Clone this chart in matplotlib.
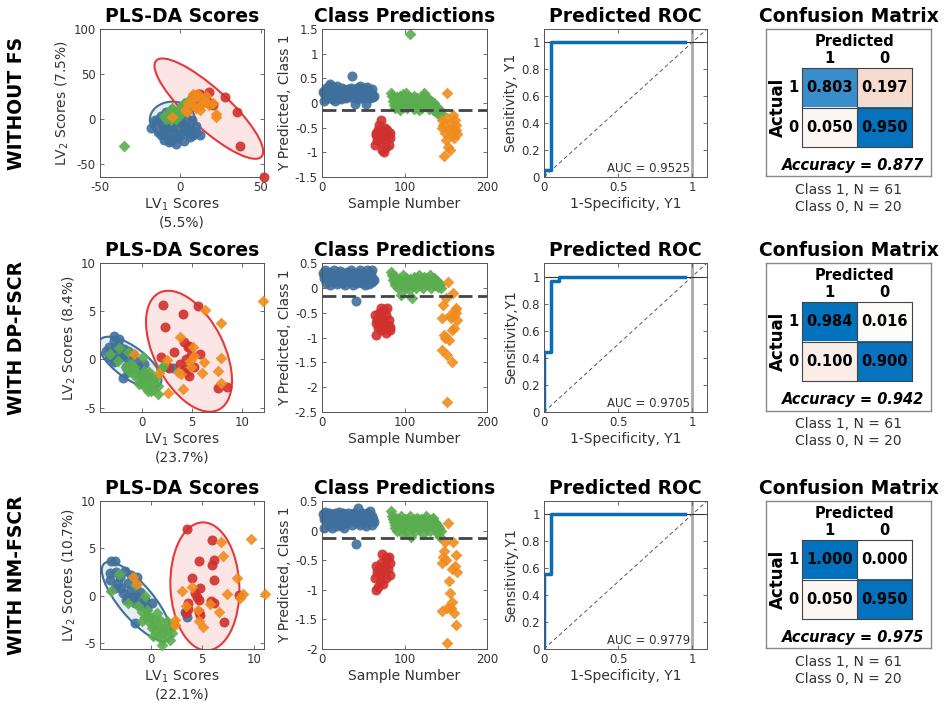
import numpy as np
import matplotlib
matplotlib.use("Agg")
import matplotlib.pyplot as plt
from matplotlib.patches import Ellipse
from matplotlib.colors import LinearSegmentedColormap
from matplotlib.ticker import FuncFormatter

W, H = 944, 712

plt.rcParams['font.family'] = ['DejaVu Sans']
plt.rcParams['axes.unicode_minus'] = False

# ---------------- data ----------------
row_names = ['WITHOUT FS', 'WITH DP-FSCR', 'WITH NM-FSCR']

# scores: LV1 / LV2 explained variance (%)
lv1_pct = [5.5, 23.7, 22.1]
lv2_pct = [7.5, 8.4, 10.7]

# row 1 scores
blue_sx_1 = [-18, -15, -12, -10, -8, -6, -4, -2, 0, 2, 4, 6, 8, 10, -16, -13, -11, -9, -7, -5, -3, -1, 1, 3, 5, 7,
             -14, -10, -6, -2, 2, 6, -12, -8, -4, 0, 4, -9, -5, -1, 3, 10, 12, -3, -7]
blue_sy_1 = [-10, -5, -18, -12, -20, -8, -15, -22, -18, -10, -12, -20, -18, -8, -2, 0, -8, -15, -5, -10, -2, -12, -5, -8,
             -15, -2, -15, -24, -25, -20, -25, -10, 3, 5, 2, -3, 0, 8, 10, 4, 6, -15, -18, -28, -26]
red_sx_1 = [8, 12, 18, 27.6, 34.9, 37, 52, 5, 15, 10, 7, 14, 20, 3, 9, 16, 12, 6, 18, 11]
red_sy_1 = [25, 28, 30, 24.6, 7.1, -30, -65, 18, 20, 18, 22, 24, 15, 15, 20, 22, 15, 12, 18, 27]
green_sx_1 = [-35, -10, -8, -6, -4, -2, 0, 2, -9, -7, -5, -3, -1, 1, 3, -6, -4, -2, 0, 2, 4, -8, -3, 1, 5, -5, 0, 3]
green_sy_1 = [-30, 3, 6, 2, 8, 5, 10, 12, 0, 4, 7, 2, 9, 14, 16, -2, 3, 6, 12, 18, 10, 5, 0, 8, 20, 12, 4, 14]
orange_sx_1 = [8, 10, 12, 5, 15, 18, 22, 22, -5, 8, 12, 14, 3, 6, 16, 10, 13, 20, 4, 11]
orange_sy_1 = [28, 25, 22, 18, 20, 15, 5, 2, 2, 15, 10, 18, 10, 20, 25, 12, 15, 18, 8, 28]

# row 2 scores
blue_sx_2 = [-2.77, -2.77, -3.27, -2.27, -1.43, -3.27, -2.77, -2.1, -1.37, -0.6, -1.93, -1.43, -0.43, 0.23, 2.73,
             3.07, -3.6, -2.43, -1.77, -0.93, -3.1, -1.1, -0.1, -2.6, -1.83, -2.93, -0.77, -1.6, 0.57, -2.27]
blue_sy_2 = [2.4, 1.88, 1.25, 1.42, 0.9, 0.21, -0.31, 0.21, 0.03, -0.14, -1.88, -1.35, -0.83, -0.49, -0.9,
             -0.9, 0.9, 0.73, 0.56, 0.56, 0.56, -0.66, -1.35, 1.25, 1.08, 0.03, -1.0, -0.83, -1.7, 2.12]
red_sx_2 = [2.13, 4.07, 5.57, 2.33, 4.23, 4.63, 4.9, 3.23, 5.83, 1.9, 4.4, 4.3, 4.67, 2.57, 7.57, 8.47, 3.83, 5.23,
            4.73, 4.5]
red_sy_2 = [5.66, 4.72, 5.59, 3.33, 1.77, 1.25, 0.45, 0.8, 0.56, 0.28, 0.03, -1.0, -1.7, -0.83, -3.0, -2.9, -0.49,
            -0.83, 1.42, -1.3]
green_sx_2 = [-2.27, -3.17, -1.43, -2.43, 0.07, -1.6, -1.1, -0.6, -0.27, 0.23, 0.73, 1.07, 1.57, 0.9, 0.57, -0.1,
              -0.43, 1.4, 1.9, 2.07, -0.77, 0.23, 1.23, 0.4, 0.07, -0.93, 1.57, 0.73, -0.27, 1.07, -1.27, 0.57]
green_sy_2 = [1.18, 0.56, 0.8, -0.14, 0.21, -0.83, -0.49, -1.35, -1.7, -2.05, -2.4, -3.09, -3.61, -3.26, -2.74, -2.4,
              -2.05, -1.88, -1.0, -0.66, -0.83, -1.18, -2.4, -2.92, -1.7, -1.53, -2.74, -1.35, -2.57, -1.88, -1.18,
              -3.26]
orange_sx_2 = [12.13, 6.3, 7.9, 3.83, 5.07, 7.9, 6.17, 4.8, 2.5, 1.73, 3.9, 4.9, 5.97, 7.57, 7.9, 4.07, 2.57, -0.77,
               3.57, 5.23]
orange_sy_2 = [6.11, 5.14, 3.82, 2.29, 1.32, 0.1, -0.31, -0.14, -0.03, -1.42, -1.53, -0.83, -1.42, -1.18, -2.4, -3.02,
               -3.44, 0.56, -1.35, 0.31]

# row 3 scores
blue_sx_3 = [-3.84, -3.52, -2.54, -1.89, -1.4, -4.0, -3.19, -2.21, -1.56, -3.52, -2.7, -1.89, -1.24, -0.59, -2.38,
             -1.56, -0.91, 0.07, -1.56, -0.26, 3.49, 3.32, -3.03, -4.0, -2.21, -2.87, -1.07, -0.42, -1.73, -3.36]
blue_sy_3 = [3.72, 3.72, 2.67, 2.21, 2.04, 1.68, 1.4, 1.33, 1.05, 0.81, 0.28, 0.63, -0.07, -0.42, -0.42,
             -0.77, -1.12, -0.7, -2.88, -2.18, -2.18, -1.65, 2.04, 2.39, -0.07, 0.81, 0.46, -1.3, -0.07, 2.56]
red_sx_3 = [3.49, 5.99, 4.69, 6.09, 5.93, 3.97, 6.09, 4.79, 4.46, 3.58, 4.63, 5.86, 4.63, 3.58, 7.07, 8.53, 4.79,
            6.09, 4.3, 3.39]
red_sy_3 = [7.05, 5.89, 3.68, 3.79, 3.26, 1.86, 1.68, 0.88, -0.07, -0.7, -0.42, -0.49, -1.65, -1.4, -2.74, 0.07, -2.0,
            -0.77, 0.28, -1.82]
green_sx_3 = [-3.13, -1.56, -0.59, -2.21, -1.24, -0.42, -0.1, 0.39, 0.88, 1.37, 1.04, 1.86, 1.04, 0.72, 0.23, -0.26,
              -0.91, 2.02, 2.18, 1.53, 0.55, 0.07, 1.21, 1.69, -0.59, 0.88, -0.91, 0.23, 1.37, 0.55, -3.84]
green_sy_3 = [2.32, 1.16, 0.0, -0.7, -1.12, -1.47, -2.18, -2.53, -3.23, -3.58, -4.63, -4.63, -5.16, -4.11, -3.05, -2.7,
              -1.65, -3.93, -3.05, -2.7, -1.82, -3.4, -3.93, -4.28, -2.18, -2.53, -2.7, -4.28, -3.23, -3.58, 0.53]
orange_sx_3 = [6.84, 6.97, 9.74, 4.04, 3.0, 8.37, 7.39, 8.96, 8.63, 11.07, 5.77, 6.64, 3.39, 4.56, 4.69, 5.02, 2.35,
               2.35, -1.73, -1.4]
orange_sy_3 = [5.65, 4.21, 6.0, 0.98, 0.56, 1.86, 0.18, 0.18, -0.25, 0.18, -0.88, -1.65, -1.12, -1.47, -2.7, -3.23,
               -2.53, -3.05, 2.04, 1.26]

# confidence ellipses: (centre x, centre y, width, height, angle)
blue_ell = [(-5, -1, 28, 40, 0), (-1.2, -0.3, 7.6, 3.2, -38), (-1.4, -0.6, 10.2, 3.4, -52.7)]
red_ell = [(17.7, 11.2, 127, 31, -60.8), (4.7, 0.85, 13.5, 7.0, 115.6), (5.25, 1.0, 6.7, 13.5, 2)]

# class predictions (Y predicted, class 1), in sample order
blue_pred_1 = [0.22, 0.05, 0.25, 0.15, 0.3, 0.1, 0.2, 0.35, 0.12, 0.38, 0.25, 0.08, 0.32, 0.18, 0.28, 0.05, 0.22,
               0.35, 0.15, 0.1, 0.25, 0.2, 0.08, 0.3, 0.18, 0.22, 0.12, 0.26, 0.1, 0.2, 0.28, 0.15, 0.25, 0.22, 0.3,
               0.55, 0.18, 0.1, 0.25, -0.02, 0.2, 0.3, 0.15, 0.08, 0.28, 0.35, 0.22, 0.12, 0.18, 0.25, 0.3, 0.1,
               -0.03, 0.2, 0.32, 0.15, 0.25, 0.1, 0.22, 0.18, 0.28, 0.12, 0.15]
red_pred_1 = [-0.85, -0.6, -0.65, -0.75, -0.55, -0.45, -0.8, -0.35, -0.7, -0.95, -0.6, -1.0, -0.5, -0.75, -0.9,
              -0.55, -0.65, -0.85, -0.7, -0.6]
green_pred_1 = [0.2, 0.15, 0.05, -0.05, 0.1, -0.1, 0.0, 0.12, -0.05, 0.05, 0.15, -0.15, 0.08, 0.0, 0.18, -0.08, 0.05,
                0.1, 0.2, -0.1, 0.0, 0.08, 0.12, 1.4, -0.05, 0.02, 0.1, 0.15, -0.12, 0.05, 0.0, 0.1, -0.08, -0.15,
                0.05, 0.08, 0.0, -0.1, 0.02, 0.12, 0.2, 0.15, 0.05, -0.05, 0.1, 0.0, -0.12, 0.05, -0.08, 0.02, -0.15,
                -0.05, 0.0, -0.1, -0.18, -0.08, -0.2, -0.12, -0.25, -0.15, -0.2]
orange_pred_1 = [-0.5, -0.35, -0.45, -1.08, -0.6, -0.75, -0.3, 0.2, -0.9, -0.55, -0.95, -0.4, -0.65, -0.5, -0.25,
                 -0.7, -0.35, -0.55, -0.45, -0.62]

blue_pred_2 = [0.3, 0.2, 0.25, 0.35, 0.1, 0.28, 0.15, 0.32, 0.22, 0.05, 0.3, 0.18, 0.25, 0.35, 0.12, 0.2, 0.28, 0.08,
               0.3, 0.22, 0.15, 0.33, 0.25, 0.1, 0.2, 0.3, 0.18, 0.05, 0.25, 0.32, 0.15, 0.22, 0.28, 0.12, 0.35, 0.2,
               0.05, 0.3, 0.25, 0.18, -0.27, 0.1, 0.22, 0.3, 0.15, 0.35, 0.2, 0.25, 0.1, 0.3, 0.18, 0.05, 0.28, 0.35,
               0.15, 0.22, 0.08, 0.3, 0.25, 0.12, 0.35, 0.18, 0.15]
red_pred_2 = [-0.55, -0.7, -0.95, -0.65, -0.8, -0.5, -0.75, -0.4, -0.85, -0.6, -0.7, -0.45, -0.8, -0.9, -0.55, -0.4,
              -0.75, -0.65, -0.85, -0.78]
green_pred_2 = [0.32, 0.25, 0.15, 0.2, 0.1, 0.05, 0.22, 0.12, 0.0, 0.18, 0.08, 0.15, -0.15, 0.1, 0.25, 0.05, 0.12,
                0.0, 0.2, 0.08, 0.15, 0.1, -0.05, 0.18, 0.12, -0.2, 0.05, 0.22, 0.1, 0.15, 0.0, 0.2, 0.08, 0.12, 0.25,
                0.05, 0.18, 0.1, 0.0, 0.15, 0.22, 0.08, 0.12, 0.2, 0.05, 0.15, 0.1, 0.25, 0.0, 0.18, 0.12, 0.08, 0.2,
                0.05, 0.15, 0.1, 0.02, 0.12, 0.05, 0.08, 0.0]
orange_pred_2 = [-0.6, -1.25, -0.35, -0.95, -1.0, -0.2, -1.35, -2.3, 0.12, -1.05, -0.55, -0.6, -1.5, -0.85, -0.1,
                 -0.8, -0.45, -0.5, -0.4, -0.65]

blue_pred_3 = [0.28, 0.2, 0.05, 0.32, 0.18, 0.25, 0.1, 0.3, 0.22, 0.15, 0.28, 0.05, 0.2, 0.25, 0.12, 0.3, 0.18, 0.08,
               0.25, 0.32, 0.15, 0.22, 0.1, 0.28, 0.2, 0.3, 0.05, 0.18, 0.25, 0.12, 0.22, 0.3, 0.15, 0.2, 0.28, 0.1,
               0.25, 0.18, 0.3, 0.22, -0.22, 0.15, 0.25, 0.38, 0.2, 0.1, 0.28, 0.18, 0.3, 0.12, 0.22, 0.25, 0.08,
               0.3, 0.2, 0.15, 0.28, 0.33, 0.18, 0.1, 0.25, 0.2, 0.15]
red_pred_3 = [-0.8, -0.6, -1.0, -0.7, -0.95, -0.65, -0.85, -0.55, -0.75, -0.4, -0.9, -0.6, -0.7, -0.45, -0.8, -0.5,
              -0.65, -0.45, -0.75, -0.55]
green_pred_3 = [0.33, 0.25, 0.2, 0.15, 0.05, 0.1, 0.22, 0.0, 0.15, 0.2, 0.08, 0.12, 0.25, 0.05, -0.05, 0.15, 0.1,
                0.2, 0.0, 0.12, 0.18, 0.08, 0.15, 0.25, -0.1, 0.1, 0.05, 0.2, 0.12, 0.0, 0.15, 0.22, 0.08, 0.18, 0.1,
                0.05, 0.2, 0.15, -0.05, 0.12, 0.2, 0.1, 0.25, 0.05, 0.15, 0.08, 0.18, 0.0, 0.12, 0.2, 0.22, 0.1, 0.15,
                0.05, 0.12, 0.0, 0.08, -0.05, 0.05, -0.1, 0.0]
orange_pred_3 = [-1.35, -0.55, -0.45, -0.35, -0.2, -0.5, -1.3, -1.9, 0.12, -0.85, -1.05, -1.3, -0.65, -1.2, -0.2,
                 -1.4, -0.6, -1.6, -0.42, -0.7]

thresholds = [-0.14, -0.16, -0.13]
pred_ylims = [(-1.5, 1.5), (-2.5, 0.5), (-2.0, 0.5)]

# ROC curves
roc_fpr_1 = [0, 0, 0.05, 0.05, 0.95]
roc_tpr_1 = [0, 0.05, 0.05, 1, 1]
roc_fpr_2 = [0, 0, 0.05, 0.05, 0.1, 0.1, 0.95]
roc_tpr_2 = [0, 0.44, 0.44, 0.967, 0.967, 1, 1]
roc_fpr_3 = [0, 0, 0.05, 0.05, 0.95]
roc_tpr_3 = [0, 0.557, 0.557, 1, 1]
auc_values = [0.9525, 0.9705, 0.9779]
roc_ylabels = ['Sensitivity, Y1', 'Sensitivity,Y1', 'Sensitivity,Y1']

# confusion matrices (rows: actual 1 / 0, cols: predicted 1 / 0)
conf_1 = [[0.803, 0.197], [0.050, 0.950]]
conf_2 = [[0.984, 0.016], [0.100, 0.900]]
conf_3 = [[1.000, 0.000], [0.050, 0.950]]
accuracy = [0.877, 0.942, 0.975]
class_counts = [61, 20]

# ---------------- styling ----------------
C_BLUE = '#3f6f9c'
C_RED = '#d0302e'
C_GREEN = '#5aad4e'
C_ORANGE = '#f08c1e'
TXT = '#333333'
AX = '#555555'

cm = LinearSegmentedColormap.from_list(
    'cm', [(0, '#ffffff'), (0.2, '#f6dccf'), (0.5, '#d5e3ef'), (0.8, '#3a8fcb'),
           (0.9, '#0a74be'), (1, '#0072bd')])

row_tops = [29, 263, 501]
row_bots = [177, 412, 649]
col_scores = (100, 264)
col_pred = (322, 487)
col_roc = (544, 707)
col_cm = (766, 931)

fmt = FuncFormatter(lambda v, p: '%g' % v)


def px_axes(fig, left, top, right, bottom):
    return fig.add_axes([left / W, 1 - bottom / H, (right - left) / W, (bottom - top) / H])


def style(ax):
    ax.tick_params(direction='in', top=True, right=True, length=3, width=0.6,
                   labelsize=8.5, color=AX, labelcolor=TXT, pad=3)
    for s in ax.spines.values():
        s.set_color(AX)
        s.set_linewidth(0.7)
    ax.xaxis.set_major_formatter(fmt)
    ax.yaxis.set_major_formatter(fmt)


def title(ax, text):
    ax.set_title(text, fontsize=13.5, fontweight='bold', pad=5)


scores = [
    (blue_sx_1, blue_sy_1, red_sx_1, red_sy_1, green_sx_1, green_sy_1, orange_sx_1, orange_sy_1),
    (blue_sx_2, blue_sy_2, red_sx_2, red_sy_2, green_sx_2, green_sy_2, orange_sx_2, orange_sy_2),
    (blue_sx_3, blue_sy_3, red_sx_3, red_sy_3, green_sx_3, green_sy_3, orange_sx_3, orange_sy_3),
]
score_lims = [((-50, 52), (-65, 100)), ((-4.2, 12.2), (-5.45, 10)), ((-4.95, 11.0), (-5.6, 10))]
score_ticks = [([-50, 0, 50], [-50, 0, 50, 100]), ([0, 5, 10], [-5, 0, 5, 10]), ([0, 5, 10], [-5, 0, 5, 10])]
preds = [
    (blue_pred_1, red_pred_1, green_pred_1, orange_pred_1),
    (blue_pred_2, red_pred_2, green_pred_2, orange_pred_2),
    (blue_pred_3, red_pred_3, green_pred_3, orange_pred_3),
]
rocs = [(roc_fpr_1, roc_tpr_1), (roc_fpr_2, roc_tpr_2), (roc_fpr_3, roc_tpr_3)]
confs = [conf_1, conf_2, conf_3]

S_CIRC, S_DIAM = 52, 36

fig = plt.figure(figsize=(W / 100, H / 100), dpi=100)

for r in range(3):
    top, bot = row_tops[r], row_bots[r]

    fig.text(17 / W, 1 - ((top + bot) / 2) / H, row_names[r], rotation=90, fontsize=13.5,
             fontweight='bold', ha='center', va='center')

    # --- PLS-DA scores ---
    ax = px_axes(fig, col_scores[0], top, col_scores[1], bot)
    bx, by, rx, ry, gx, gy, ox, oy = scores[r]
    for (cx, cy, w, h, a), col in ((blue_ell[r], C_BLUE), (red_ell[r], '#e8393a')):
        ax.add_patch(Ellipse((cx, cy), w, h, angle=a, facecolor=col, alpha=0.13, zorder=1))
        ax.add_patch(Ellipse((cx, cy), w, h, angle=a, facecolor='none', edgecolor=col, lw=1.5, zorder=1.5))
    ax.scatter(bx, by, s=S_CIRC, marker='o', color=C_BLUE, alpha=0.9, lw=0, zorder=2, clip_on=False)
    ax.scatter(rx, ry, s=S_CIRC, marker='o', color=C_RED, alpha=0.9, lw=0, zorder=3, clip_on=False)
    ax.scatter(gx, gy, s=S_DIAM, marker='D', color=C_GREEN, alpha=0.9, lw=0, zorder=4, clip_on=False)
    ax.scatter(ox, oy, s=S_DIAM, marker='D', color=C_ORANGE, alpha=0.9, lw=0, zorder=5, clip_on=False)
    ax.set_xlim(*score_lims[r][0])
    ax.set_ylim(*score_lims[r][1])
    ax.set_xticks(score_ticks[r][0])
    ax.set_yticks(score_ticks[r][1])
    style(ax)
    ax.set_xlabel('LV$_1$ Scores\n(%.1f%%)' % lv1_pct[r], fontsize=10, color=TXT, labelpad=2)
    ax.set_ylabel('LV$_2$ Scores (%.1f%%)' % lv2_pct[r], fontsize=10, color=TXT, labelpad=2)
    title(ax, 'PLS-DA Scores')

    # --- class predictions ---
    ax = px_axes(fig, col_pred[0], top, col_pred[1], bot)
    start = 1
    for vals, col, mk, s in zip(preds[r], (C_BLUE, C_RED, C_GREEN, C_ORANGE), ('o', 'o', 'D', 'D'),
                                (S_CIRC, S_CIRC, S_DIAM, S_DIAM)):
        xs = np.arange(start, start + len(vals))
        ax.scatter(xs, vals, s=s, marker=mk, color=col, alpha=0.9, lw=0, zorder=2, clip_on=False)
        start += len(vals)
    ax.axhline(thresholds[r], color='#444444', lw=2, ls=(0, (5, 2)), zorder=3)
    ax.set_xlim(0, 200)
    ax.set_ylim(*pred_ylims[r])
    ax.set_xticks([0, 100, 200])
    ax.set_yticks(np.arange(pred_ylims[r][0], pred_ylims[r][1] + 0.01, 0.5))
    style(ax)
    ax.set_xlabel('Sample Number', fontsize=10, color=TXT, labelpad=2)
    ax.set_ylabel('Y Predicted, Class 1', fontsize=10, color=TXT, labelpad=2)
    title(ax, 'Class Predictions')

    # --- ROC ---
    ax = px_axes(fig, col_roc[0], top, col_roc[1], bot)
    ax.plot([0, 1.1], [0, 1.1], color='#555555', lw=0.7, ls=(0, (4, 3)), zorder=1)
    ax.axvline(1, color='#aaaaaa', lw=2, zorder=1)
    ax.axhline(1, color='#333333', lw=0.8, zorder=1)
    ax.plot(rocs[r][0], rocs[r][1], color='#0b6db5', lw=2.5, zorder=2)
    ax.text(0.985, 0.015, 'AUC = %.4f' % auc_values[r], ha='right', va='bottom', fontsize=8.5, color=TXT)
    ax.set_xlim(0, 1.1)
    ax.set_ylim(0, 1.1)
    ax.set_xticks([0, 0.5, 1])
    ax.set_yticks([0, 0.2, 0.4, 0.6, 0.8, 1])
    style(ax)
    ax.set_xlabel('1-Specificity, Y1', fontsize=10, color=TXT, labelpad=2)
    ax.set_ylabel(roc_ylabels[r], fontsize=10, color=TXT, labelpad=2)
    title(ax, 'Predicted ROC')

    # --- confusion matrix ---
    box = px_axes(fig, col_cm[0], top, col_cm[1], bot - 1)
    box.set_xticks([])
    box.set_yticks([])
    for s in box.spines.values():
        s.set_color('#888888')
        s.set_linewidth(1)
    title(box, 'Confusion Matrix')

    ax = px_axes(fig, 802, top + 39, 912, top + 118)
    mat = np.array(confs[r])
    ax.imshow(mat, cmap=cm, vmin=0, vmax=1, aspect='auto')
    ax.axhline(0.5, color='#444444', lw=0.8)
    ax.axvline(0.5, color='#444444', lw=0.8)
    ax.set_xticks([])
    ax.set_yticks([])
    for s in ax.spines.values():
        s.set_color('#444444')
        s.set_linewidth(0.8)
    for i in range(2):
        for j in range(2):
            ax.text(j, i, '%.3f' % mat[i, j], ha='center', va='center', fontsize=10.5, fontweight='bold')
    for j, lab in enumerate(['1', '0']):
        ax.text(j, -0.73, lab, ha='center', va='center', fontsize=10.5, fontweight='bold', clip_on=False)
        ax.text(-0.66, j, lab, ha='center', va='center', fontsize=10.5, fontweight='bold', clip_on=False)
    ax.text(0.46, -1.17, 'Predicted', ha='center', va='center', fontsize=10.5, fontweight='bold')
    ax.text(-0.94, 0.5, 'Actual', ha='center', va='center', rotation=90, fontsize=12, fontweight='bold')
    ax.text(0.43, 1.96, 'Accuracy = %.3f' % accuracy[r], ha='center', va='center', fontsize=10.5,
            fontweight='bold', fontstyle='italic')
    ax.text(0.34, 2.8, 'Class 1, N = %d\nClass 0, N = %d' % (class_counts[0], class_counts[1]),
            ha='center', va='center', fontsize=10, color=TXT, linespacing=1.25)

fig.savefig('out.png', dpi=100, facecolor='white')
